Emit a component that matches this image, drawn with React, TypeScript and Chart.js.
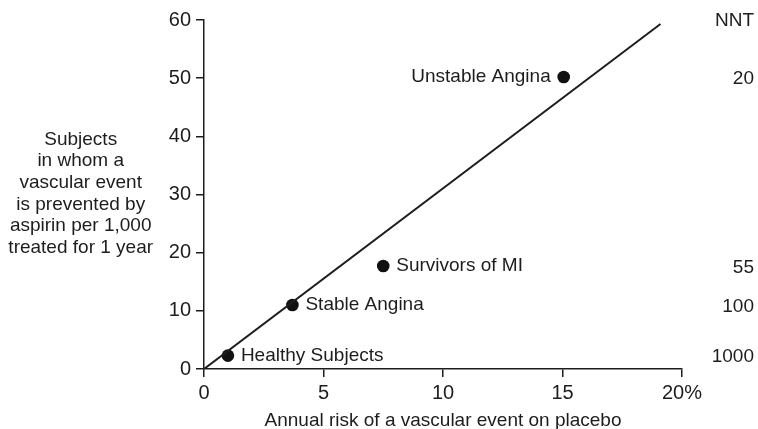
import React, { useEffect, useRef } from "react";
import { Chart, registerables } from "chart.js";

Chart.register(...registerables);

// Data
const pointNames = ["Healthy Subjects", "Stable Angina", "Survivors of MI", "Unstable Angina"];
const annualRisk = [1, 3.7, 7.5, 15.05];
const prevented = [2.3, 11, 17.7, 50.2];
const nntValues = ["1000", "100", "55", "20"];
const labelSide = ["right", "right", "right", "left"];
const lineX = [0, 19.1];
const lineY = [0, 59.3];
const xTicks = [0, 5, 10, 15, 20];
const yTicks = [0, 10, 20, 30, 40, 50, 60];
const yTitleLines = [
  "Subjects",
  "in whom a",
  "vascular event",
  "is prevented by",
  "aspirin per 1,000",
  "treated for 1 year",
];
const xTitle = "Annual risk of a vascular event on placebo";
const nntHeader = "NNT";

const FONT = "'Liberation Sans', Arial, Helvetica, sans-serif";
const INK = "#1d1d1d";

export default function App() {
  const ref = useRef<HTMLCanvasElement>(null);

  useEffect(() => {
    document.body.style.margin = "0";
    const canvas = ref.current;
    if (!canvas) return;

    const annot = {
      id: "annot",
      afterDraw(chart: any) {
        const { ctx, chartArea, scales } = chart;
        const ys = scales.y;
        ctx.save();
        ctx.fillStyle = INK;
        ctx.font = `19px ${FONT}`;
        ctx.textBaseline = "alphabetic";
        const capHalf = 6.8; // baseline offset from cap centre

        // y axis title (horizontal, multi-line)
        ctx.textAlign = "center";
        const cy = (chartArea.top + chartArea.bottom) / 2 - 2.5;
        const lh = 21.6;
        const startY = cy - ((yTitleLines.length - 1) * lh) / 2;
        yTitleLines.forEach((l, i) => ctx.fillText(l, 80.7, startY + i * lh + capHalf));

        // x axis title
        ctx.fillText(xTitle, (chartArea.left + chartArea.right) / 2, 425.5);

        // point labels
        const meta = chart.getDatasetMeta(1);
        meta.data.forEach((pt: any, i: number) => {
          const by = pt.y - 1.5 + capHalf;
          if (labelSide[i] === "left") {
            ctx.textAlign = "right";
            ctx.fillText(pointNames[i], pt.x - 13, by);
          } else {
            ctx.textAlign = "left";
            ctx.fillText(pointNames[i], pt.x + 13, by);
          }
        });

        // NNT column
        ctx.textAlign = "right";
        ctx.fillText(nntHeader, 754, ys.getPixelForValue(60) - 1 + capHalf);
        prevented.forEach((v, i) => {
          ctx.fillText(nntValues[i], 754, ys.getPixelForValue(v) + capHalf);
        });
        ctx.restore();
      },
    };

    const chart = new Chart(canvas, {
      type: "scatter",
      data: {
        datasets: [
          {
            type: "line",
            data: lineX.map((x, i) => ({ x, y: lineY[i] })),
            borderColor: INK,
            borderWidth: 2,
            pointRadius: 0,
            fill: false,
            tension: 0,
          } as any,
          {
            data: annualRisk.map((x, i) => ({ x, y: prevented[i] })),
            backgroundColor: "#111",
            borderColor: "#111",
            borderWidth: 0,
            pointRadius: 6.3,
            pointHoverRadius: 6.3,
          },
        ],
      },
      options: {
        animation: false,
        responsive: false,
        events: [],
        layout: { padding: { left: 0, right: 76, top: 20, bottom: 0 } },
        plugins: { legend: { display: false }, tooltip: { enabled: false } },
        scales: {
          x: {
            type: "linear",
            min: 0,
            max: 20,
            afterBuildTicks: (s: any) => {
              s.ticks = xTicks.map((v) => ({ value: v }));
            },
            ticks: {
              color: INK,
              font: { family: FONT, size: 20 },
              padding: 4.5,
              maxRotation: 0,
              callback: (v: any) => (v === 20 ? "20%" : String(v)),
            },
            grid: {
              display: true,
              drawOnChartArea: false,
              drawTicks: true,
              tickLength: 8,
              color: INK,
              lineWidth: 1.5,
            },
            border: { display: true, color: INK, width: 1.5 },
            afterFit: (s: any) => {
              s.height = 60;
            },
          },
          y: {
            type: "linear",
            min: 0,
            max: 60,
            afterBuildTicks: (s: any) => {
              s.ticks = yTicks.map((v) => ({ value: v }));
            },
            ticks: {
              color: INK,
              font: { family: FONT, size: 20 },
              padding: 5,
            },
            grid: {
              display: true,
              drawOnChartArea: false,
              drawTicks: true,
              tickLength: 8,
              color: INK,
              lineWidth: 1.5,
            },
            border: { display: true, color: INK, width: 1.5 },
            afterFit: (s: any) => {
              s.width = 204;
            },
          },
        },
      },
      plugins: [annot],
    });
    return () => chart.destroy();
  }, []);

  return (
    <div style={{ position: "absolute", left: 0, top: 0, width: 758, height: 429 }}>
      <canvas ref={ref} width={758} height={429} style={{ display: "block" }} />
    </div>
  );
}
